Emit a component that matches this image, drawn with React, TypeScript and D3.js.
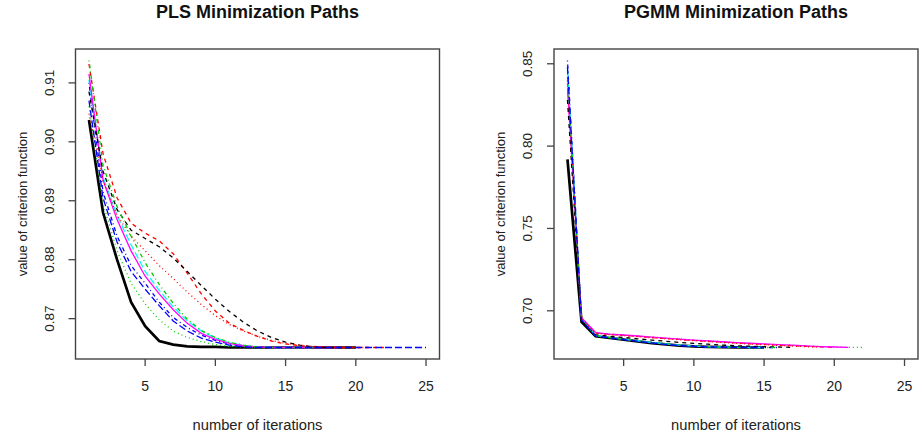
import * as d3 from 'd3';

// PLS panel: criterion value per iteration, one array per run
const plsRun1 = [0.9037, 0.888, 0.88, 0.8728, 0.8687, 0.8662, 0.8656, 0.8653, 0.8652, 0.8652, 0.8651, 0.8651, 0.8651, 0.8651, 0.8651, 0.8651, 0.8651, 0.8651, 0.8651, 0.8651];
const plsRun2 = [0.9132, 0.898, 0.8905, 0.8862, 0.8845, 0.8832, 0.881, 0.8777, 0.8742, 0.8713, 0.8692, 0.868, 0.867, 0.8662, 0.8657, 0.8654, 0.8652, 0.8651, 0.8651, 0.8651, 0.8651, 0.8651];
const plsRun3 = [0.906, 0.8895, 0.8815, 0.876, 0.8725, 0.8698, 0.8679, 0.8668, 0.8661, 0.8656, 0.8653, 0.8652, 0.8651, 0.8651, 0.8651, 0.8651];
const plsRun4 = [0.91, 0.8915, 0.884, 0.879, 0.876, 0.8728, 0.8702, 0.8685, 0.8672, 0.8663, 0.8657, 0.8654, 0.8652, 0.8651, 0.8651, 0.8651, 0.8651, 0.8651];
const plsRun5 = [0.9105, 0.894, 0.8875, 0.8825, 0.878, 0.8748, 0.872, 0.8696, 0.8679, 0.8667, 0.8659, 0.8655, 0.8652, 0.8651, 0.8651, 0.8651, 0.8651];
const plsRun6 = [0.9115, 0.8935, 0.8868, 0.8815, 0.8772, 0.8742, 0.8715, 0.8692, 0.8675, 0.8665, 0.8658, 0.8654, 0.8652, 0.8651, 0.8651, 0.8651, 0.8651, 0.8651, 0.8651];
const plsRun7 = [0.9085, 0.895, 0.8885, 0.885, 0.8836, 0.8822, 0.8803, 0.878, 0.8756, 0.8733, 0.8712, 0.8694, 0.8679, 0.8668, 0.866, 0.8655, 0.8652, 0.8651, 0.8651, 0.8651];
const plsRun8 = [0.9048, 0.8935, 0.8875, 0.884, 0.8815, 0.879, 0.8768, 0.8745, 0.8724, 0.8705, 0.869, 0.8679, 0.867, 0.8663, 0.8658, 0.8655, 0.8653, 0.8652, 0.8651, 0.8651, 0.8651];
const plsRun9 = [0.9138, 0.896, 0.889, 0.884, 0.8795, 0.8758, 0.8726, 0.8699, 0.868, 0.8668, 0.866, 0.8655, 0.8652, 0.8651, 0.8651, 0.8651, 0.8651];
const plsRun10 = [0.907, 0.8905, 0.883, 0.878, 0.875, 0.8722, 0.8696, 0.8679, 0.8667, 0.866, 0.8655, 0.8652, 0.8651, 0.8651, 0.8651, 0.8651, 0.8651, 0.8651, 0.8651, 0.8651, 0.8651, 0.8651, 0.8651, 0.8651, 0.8651];

// PGMM panel
const pgmmRun1 = [0.792, 0.6932, 0.6845, 0.6835, 0.6825, 0.6814, 0.6804, 0.6796, 0.6789, 0.6784, 0.6781, 0.6779, 0.6778, 0.6777, 0.6777];
const pgmmRun2 = [0.838, 0.6955, 0.6866, 0.6857, 0.6851, 0.6845, 0.6838, 0.6832, 0.6826, 0.682, 0.6815, 0.681, 0.6805, 0.68, 0.6796, 0.6792, 0.6788, 0.6784, 0.6781, 0.6778];
const pgmmRun3 = [0.842, 0.695, 0.6865, 0.6858, 0.6852, 0.6846, 0.684, 0.6834, 0.6828, 0.6822, 0.6817, 0.6812, 0.6807, 0.6802, 0.6798, 0.6794, 0.679, 0.6786, 0.6783, 0.678, 0.6778, 0.6777];
const pgmmRun4 = [0.852, 0.6945, 0.6848, 0.6836, 0.6826, 0.6816, 0.6806, 0.6797, 0.679, 0.6785, 0.6781, 0.6779, 0.6778, 0.6777, 0.6777, 0.6777];
const pgmmRun5 = [0.846, 0.6948, 0.685, 0.6838, 0.6828, 0.6818, 0.6808, 0.6799, 0.6792, 0.6786, 0.6782, 0.678, 0.6778, 0.6777, 0.6777];
const pgmmRun6 = [0.835, 0.6958, 0.6868, 0.6858, 0.6853, 0.6847, 0.684, 0.6834, 0.6828, 0.6822, 0.6817, 0.6812, 0.6807, 0.6803, 0.6799, 0.6795, 0.6791, 0.6787, 0.6783, 0.678, 0.6778];
const pgmmRun7 = [0.828, 0.694, 0.6855, 0.6845, 0.6838, 0.683, 0.6822, 0.6815, 0.6808, 0.6802, 0.6797, 0.6792, 0.6788, 0.6785, 0.6782, 0.678, 0.6778];
const pgmmRun8 = [0.84, 0.6952, 0.6864, 0.6855, 0.6849, 0.6843, 0.6836, 0.683, 0.6824, 0.6818, 0.6813, 0.6808, 0.6803, 0.6798, 0.6794, 0.679, 0.6786, 0.6782, 0.6779];
const pgmmRun9 = [0.844, 0.6946, 0.6849, 0.6837, 0.6827, 0.6817, 0.6807, 0.6798, 0.6791, 0.6786, 0.6782, 0.678, 0.6778, 0.6777, 0.6777, 0.6777];
const pgmmRun10 = [0.848, 0.6944, 0.6847, 0.6835, 0.6825, 0.6815, 0.6805, 0.6796, 0.6789, 0.6784, 0.6781, 0.6779, 0.6778, 0.6777, 0.6777];

const xTicks = [5, 10, 15, 20, 25];
const plsYTicks = [0.87, 0.88, 0.89, 0.9, 0.91];
const pgmmYTicks = [0.7, 0.75, 0.8, 0.85];

// matplot-style cycling: colours 1:6, line types 1:5
const colors = ['#000000', '#ff0000', '#00cd00', '#0000ff', '#00ffff', '#ff00ff'];
const dashes = [null, '4 4', '1 3', '1 3 4 3', '7 3'];

const font = 'Liberation Sans, Arial, sans-serif';

function Panel({ runs, yTicks, title, left, right, yFmt }) {
    const top = 49;
    const bottom = 359;
    // R style 4% axis expansion
    const all = runs.flat();
    const yMin = d3.min(all);
    const yMax = d3.max(all);
    const yPad = (yMax - yMin) * 0.04;
    const y = d3.scaleLinear().domain([yMin - yPad, yMax + yPad]).range([bottom, top]);
    const x = d3.scaleLinear().domain([1 - 0.96, 25 + 0.96]).range([left, right]);
    const line = d3.line().x((d, i) => x(i + 1)).y(d => y(d));
    const fmt = d3.format(yFmt);

    return (
        <g>
            <text x={(left + right) / 2} y={18} textAnchor="middle" fontWeight="bold" fontSize={18} fontFamily={font} fill="#111">
                {title}
            </text>
            {runs.map((r, i) => (
                <path
                    key={i}
                    d={line(r)}
                    fill="none"
                    stroke={colors[i % 6]}
                    strokeWidth={i === 0 ? 2.7 : 1.3}
                    strokeDasharray={dashes[i % 5] || undefined}
                />
            ))}
            <rect x={left} y={top} width={right - left} height={bottom - top} fill="none" stroke="#444" strokeWidth={1.4} />
            {xTicks.map(t => (
                <g key={t}>
                    <line x1={x(t)} x2={x(t)} y1={bottom} y2={bottom + 7} stroke="#444" strokeWidth={1.3} />
                    <text x={x(t)} y={391} textAnchor="middle" fontSize={14} fontFamily={font} fill="#222">{t}</text>
                </g>
            ))}
            {yTicks.map(t => (
                <g key={t}>
                    <line x1={left - 7} x2={left} y1={y(t)} y2={y(t)} stroke="#444" strokeWidth={1.3} />
                    <text
                        transform={`translate(${left - 22},${y(t)}) rotate(-90)`}
                        textAnchor="middle"
                        fontSize={13.5}
                        fontFamily={font}
                        fill="#222"
                    >
                        {fmt(t)}
                    </text>
                </g>
            ))}
            <text x={(left + right) / 2} y={430} textAnchor="middle" fontSize={14.7} fontFamily={font} fill="#222">
                number of iterations
            </text>
            <text
                transform={`translate(${left - 49},${(top + bottom) / 2}) rotate(-90)`}
                textAnchor="middle"
                fontSize={13}
                fontFamily={font}
                fill="#222"
            >
                value of criterion function
            </text>
        </g>
    );
}

export default function App() {
    const plsRuns = [plsRun1, plsRun2, plsRun3, plsRun4, plsRun5, plsRun6, plsRun7, plsRun8, plsRun9, plsRun10];
    const pgmmRuns = [pgmmRun1, pgmmRun2, pgmmRun3, pgmmRun4, pgmmRun5, pgmmRun6, pgmmRun7, pgmmRun8, pgmmRun9, pgmmRun10];
    return (
        <svg width={922} height={437} style={{ position: 'absolute', left: 0, top: 0, background: '#fff' }}>
            <Panel runs={plsRuns} yTicks={plsYTicks} title="PLS Minimization Paths" left={75.5} right={439.5} yFmt=".2f" />
            <Panel runs={pgmmRuns} yTicks={pgmmYTicks} title="PGMM Minimization Paths" left={554} right={918} yFmt=".2f" />
        </svg>
    );
}
